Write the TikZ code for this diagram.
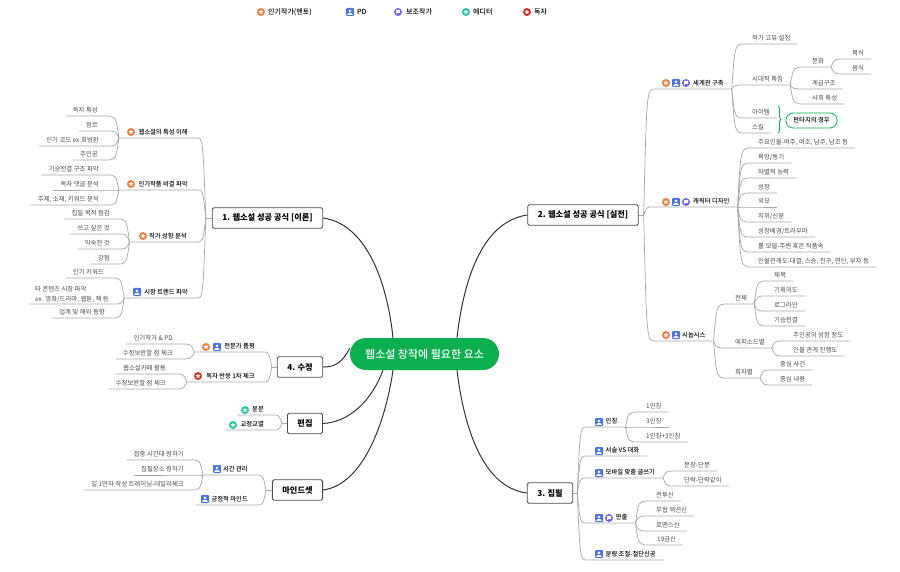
\documentclass[tikz,border=0pt]{standalone}
\usepackage{fontspec}
\setmainfont{Noto Sans CJK KR}
\newfontfamily\mediumfont{Noto Sans CJK KR Medium}
\usepackage{xcolor}
\usetikzlibrary{calc,decorations.pathreplacing}

\definecolor{rootgreen}{HTML}{0BAF50}
\definecolor{mentorc}{HTML}{F07A3E}
\definecolor{pdc}{HTML}{4C72E6}
\definecolor{assistc}{HTML}{7B5FE3}
\definecolor{editorc}{HTML}{1CC49A}
\definecolor{readerc}{HTML}{D9261C}
\definecolor{twigc}{HTML}{A6A6A6}
\definecolor{leaftext}{HTML}{4A4A4A}

\newcommand{\gap}[1]{\hspace*{#1pt}}
\newcommand{\fanL}[2]{\foreach \l in {#2} \draw[twigline] (#1) .. controls ($(#1 |- \l.south east)+(-3,0)$) .. (\l.south east) -- (\l.south west);}
\newcommand{\fanR}[2]{\foreach \l in {#2} \draw[twigline] (#1) .. controls ($(#1 |- \l.south west)+(3,0)$) .. (\l.south west) -- (\l.south east);}
\newcommand{\starshape}{(270:2.7) -- (306:1.2) -- (342:2.7) -- (18:1.2) -- (54:2.7) -- (90:1.2) -- (126:2.7) -- (162:1.2) -- (198:2.7) -- (234:1.2) -- cycle}

\tikzset{
  twigline/.style={draw=twigc,line width=0.7pt},
  trunk/.style={draw=black!80,line width=1pt},
  twigL/.style={anchor=south east,font=\fontsize{6.4}{10}\selectfont,text=leaftext,inner xsep=7pt,inner ysep=1.3pt,text height=5pt,text depth=2pt},
  twigR/.style={twigL,anchor=south west},
  branchL/.style={twigL,font=\fontsize{6.3}{10}\selectfont\mediumfont,text=black,inner xsep=9pt},
  branchR/.style={branchL,anchor=south west,inner xsep=8pt},
  topic/.style={draw=black!70,fill=white,rounded corners=1.5pt,line width=0.9pt,minimum height=20.5pt,inner xsep=10pt,inner ysep=0pt,font=\fontsize{8.2}{10}\selectfont\bfseries},
  legend/.style={anchor=west,inner sep=0pt,font=\fontsize{7}{9}\selectfont\mediumfont},
  mentor/.pic={\fill[mentorc] (0,0) circle (4); \fill[white] \starshape;},
  editor/.pic={\fill[editorc] (0,0) circle (4); \fill[white] \starshape;},
  reader/.pic={\fill[readerc] (0,0) circle (4); \fill[white] \starshape;},
  pd/.pic={\fill[pdc,rounded corners=1pt] (-4,-4) rectangle (4,4);
    \fill[white] (0,-1.2) circle (1.5);
    \fill[white] (-2.8,2.8) .. controls (-2.5,0.3) and (2.5,0.3) .. (2.8,2.8) -- cycle;},
  assist/.pic={\fill[assistc] (0,0) circle (4);
    \fill[white,rounded corners=0.4pt] (-2,-2) rectangle (2.2,1);
    \fill[white] (-2,0) rectangle (-1.1,2.3);},
}

\begin{document}
\begin{tikzpicture}[x=1pt,y=-1pt]
  \useasboundingbox (0,0) rectangle (900,572);

  \pic at (261,12) {mentor};
  \node[legend] (lg1) at (268,12) {인기작가(멘토)};
  \pic at (350,12) {pd};
  \node[legend] (lg2) at (357,12) {PD};
  \pic at (398,12) {assist};
  \node[legend] (lg3) at (406,12) {보조작가};
  \pic at (466,12) {editor};
  \node[legend] (lg4) at (473,12) {에디터};
  \pic at (527,12) {reader};
  \node[legend] (lg5) at (534,12) {독자};

  \node[fill=rootgreen,text=white,rounded corners=16pt,minimum width=149pt,minimum height=32pt,inner sep=0pt,font=\fontsize{11}{13}\selectfont\mediumfont] (root) at (424.5,354) {웹소설 창작에 필요한 요소};
  \node[topic] (m1) at (267.5,218) {1. 웹소설 성공 공식 [이론]};
  \node[topic] (m2) at (583,215) {2. 웹소설 성공 공식 [실전]};
  \node[topic] (m3) at (550,493) {3. 집필};
  \node[topic] (m4) at (300,367) {4. 수정};
  \node[topic] (m5) at (305,423.5) {편집};
  \node[topic] (m6) at (297.5,490) {마인드셋};

  \draw[trunk] ([xshift=-31.5pt]root.north) .. controls (388,290) and (370,225) .. (m1.east);
  \draw[trunk] ([xshift=32.5pt]root.north) .. controls (463,285) and (480,222) .. (m2.west);
  \draw[trunk] ([xshift=32.5pt]root.south) .. controls (463,420) and (480,487) .. (m3.west);
  \draw[trunk] ([yshift=6pt]root.west) .. controls (342,363) and (335,367) .. (m4.east);
  \draw[trunk] ([xshift=-41.5pt]root.south) .. controls (372,400) and (350,422) .. (m5.east);
  \draw[trunk] ([xshift=-31.5pt]root.south) .. controls (385,425) and (362,485) .. (m6.east);

  \coordinate (m1j) at ([xshift=-6pt]m1.west);
  \coordinate (m2j) at ([xshift=5pt]m2.east);
  \coordinate (m3j) at ([xshift=4pt]m3.east);
  \coordinate (m4j) at ([xshift=-5pt]m4.west);
  \coordinate (m5j) at ([xshift=-5pt]m5.west);
  \coordinate (m6j) at ([xshift=-6pt]m6.west);
  \draw[twigline] (m1j) -- (m1.west);
  \draw[twigline] (m2j) -- (m2.east);
  \draw[twigline] (m3j) -- (m3.east);
  \draw[twigline] (m4j) -- (m4.west);
  \draw[twigline] (m5j) -- (m5.west);
  \draw[twigline] (m6j) -- (m6.west);

  \node[branchL] (a1) at (197,138) {\gap{10.5}웹소설의 특성 이해};
  \node[branchL] (a2) at (197,190) {\gap{10.5}인기작품 비결 파악};
  \node[branchL] (a3) at (196,242) {\gap{10.5}작가 성향 분석};
  \node[branchL] (a4) at (197,298) {\gap{11}시장 트렌드 파악};
  \pic at (131,132) {mentor};
  \pic at (131,184) {mentor};
  \pic at (143,236) {mentor};
  \pic at (137,292) {pd};
  \node[twigL] (a11) at (105,116) {독자 특성};
  \node[twigL] (a12) at (105,131) {장르};
  \node[twigL] (a13) at (106,146) {인기 코드 ex.회빙환};
  \node[twigL] (a14) at (105,160) {주인공};
  \node[twigL] (a21) at (106,175) {기승전결 구조 파악};
  \node[twigL] (a22) at (106,190) {독자 댓글 분석};
  \node[twigL] (a23) at (106,205) {주제, 소재, 키워드 분석};
  \node[twigL] (a31) at (117,219) {집필 목적 점검};
  \node[twigL] (a32) at (117,234) {쓰고 싶은 것};
  \node[twigL] (a33) at (117,249) {익숙한 것};
  \node[twigL] (a34) at (117,264) {강점};
  \node[twigL] (a41) at (111,278) {인기 키워드};
  \node[twigL,align=left,text height=,text depth=,inner xsep=5pt] (a42) at (114,304) {타 콘텐츠 시장 파악\\ex. 영화/드라마, 웹툰, 책 등};
  \node[twigL] (a43) at (112,318) {업계 및 해외 동향};
  \fanL{m1j}{a1,a2,a3,a4}
  \fanL{a1.south west}{a11,a12,a13,a14}
  \fanL{a2.south west}{a21,a22,a23}
  \fanL{a3.south west}{a31,a32,a33,a34}
  \fanL{a4.south west}{a41,a42,a43}

  \node[branchR] (b1) at (655,89) {\gap{30}세계관 구축};
  \node[branchR] (b2) at (652,207) {\gap{33}캐릭터 디자인};
  \node[branchR] (b3) at (655,341) {\gap{19}시놉시스};
  \pic at (666,83) {mentor};
  \pic at (676,83) {pd};
  \pic at (686,83) {assist};
  \pic at (666,202) {mentor};
  \pic at (676,202) {pd};
  \pic at (686,202) {assist};
  \pic at (666,335) {mentor};
  \pic at (676,335) {pd};
  \node[twigR] (b11) at (745,44) {작가 고유 설정};
  \node[twigR] (b12) at (745,85) {시대적 특징};
  \node[twigR] (b13) at (745,118) {아이템};
  \node[twigR] (b14) at (745,133) {스킬};
  \node[twigR] (b121) at (805,67) {문화};
  \node[twigR] (b122) at (805,89) {계급구조};
  \node[twigR] (b123) at (805,104) {사회 특성};
  \node[twigR] (b1211) at (845,59) {복식};
  \node[twigR] (b1212) at (845,74) {음식};
  \node[draw=rootgreen,rounded corners=7pt,line width=0.8pt,fill=white,inner sep=0pt,minimum width=51pt,minimum height=15pt,font=\fontsize{6.3}{8}\selectfont\mediumfont] (fantasy) at (811.5,120.5) {판타지의 경우};
  \draw[rootgreen,line width=0.8pt,decorate,decoration={brace,amplitude=3pt}] (778,106) -- (778,133);
  \fanR{m2j}{b1,b2,b3}
  \fanR{b1.south east}{b11,b12,b13,b14}
  \fanR{b12.south east}{b121,b122,b123}
  \fanR{b121.south east}{b1211,b1212}
  \node[twigR] (b21) at (751,148) {주요인물-여주, 여조, 남주, 남조 등};
  \node[twigR] (b22) at (751,163) {욕망/동기};
  \node[twigR] (b23) at (751,178) {차별적 능력};
  \node[twigR] (b24) at (751,193) {성장};
  \node[twigR] (b25) at (751,207) {외모};
  \node[twigR] (b26) at (751,222) {지위/신분};
  \node[twigR] (b27) at (751,237) {성장배경/트라우마};
  \node[twigR] (b28) at (751,252) {롤 모델-주변 혹은 작품속};
  \node[twigR] (b29) at (751,267) {인물관계도-대결, 스승, 친구, 연인, 부자 등};
  \fanR{b2.south east}{b21,b22,b23,b24,b25,b26,b27,b28,b29}
  \node[twigR] (b31) at (728,304) {전체};
  \node[twigR] (b32) at (728,348) {에피소드별};
  \node[twigR] (b33) at (728,378) {회차별};
  \node[twigR] (b311) at (767,281) {제목};
  \node[twigR] (b312) at (767,296) {기획의도};
  \node[twigR] (b313) at (767,311) {로그라인};
  \node[twigR] (b314) at (767,326) {기승전결};
  \node[twigR] (b321) at (786,341) {주인공의 성장 정도};
  \node[twigR] (b322) at (786,356) {인물 관계 진행도};
  \node[twigR] (b331) at (773,370) {중심 사건};
  \node[twigR] (b332) at (773,385) {중심 내용};
  \fanR{b3.south east}{b31,b32,b33}
  \fanR{b31.south east}{b311,b312,b313,b314}
  \fanR{b32.south east}{b321,b322}
  \fanR{b33.south east}{b331,b332}

  \node[branchR] (c1) at (587,427) {\gap{10.5}인칭};
  \node[branchR] (c2) at (587,456) {\gap{10.5}서술 VS 대화};
  \node[branchR] (c3) at (587,478) {\gap{10.5}모바일 맞춤 글쓰기};
  \node[branchR] (c4) at (587,523) {\gap{20.5}연출};
  \node[branchR] (c5) at (587,560) {\gap{10.5}분량 조절-절단신공};
  \pic at (599,422) {pd};
  \pic at (599,451) {pd};
  \pic at (599,473) {pd};
  \pic at (599,518) {pd};
  \pic at (609,518) {assist};
  \pic at (599,554) {pd};
  \node[twigR] (c11) at (639,412) {1인칭};
  \node[twigR] (c12) at (639,427) {3인칭};
  \node[twigR] (c13) at (639,442) {1인칭+3인칭};
  \node[twigR] (c31) at (677,471) {문장-단문};
  \node[twigR] (c32) at (677,486) {단락-단락같이};
  \node[twigR] (c41) at (649,501) {전투신};
  \node[twigR] (c42) at (649,516) {무협 액션신};
  \node[twigR] (c43) at (649,531) {로맨스신};
  \node[twigR] (c44) at (650,545) {19금신};
  \fanR{m3j}{c1,c2,c3,c4,c5}
  \fanR{c1.south east}{c11,c12,c13}
  \fanR{c3.south east}{c31,c32}
  \fanR{c4.south east}{c41,c42,c43,c44}

  \node[branchL] (d1) at (264,352) {\gap{21}전문가 품평};
  \node[branchL] (d2) at (264,382) {\gap{10.5}독자 반응 1차 체크};
  \pic at (206,347) {mentor};
  \pic at (217,347) {pd};
  \pic at (198,376) {reader};
  \node[twigL] (d11) at (180,344) {인기작가 \& PD};
  \node[twigL] (d12) at (180,359) {수정보완할 점 체크};
  \node[twigL] (d21) at (173,374) {웹소설카페 활용};
  \node[twigL] (d22) at (173,389) {수정보완할 점 체크};
  \fanL{m4j}{d1,d2}
  \fanL{d1.south west}{d11,d12}
  \fanL{d2.south west}{d21,d22}

  \node[branchL] (e1) at (273,415) {\gap{6}윤문};
  \node[branchL] (e2) at (273,430) {\gap{6}교정교열};
  \pic at (245,410) {editor};
  \pic at (233,425) {editor};
  \fanL{m5j}{e1,e2}

  \node[branchL] (f1) at (257,475) {\gap{11}시간 관리};
  \node[branchL] (f2) at (257,505) {\gap{6}긍정적 마인드};
  \pic at (217,469) {pd};
  \pic at (205,499) {pd};
  \node[twigL] (f11) at (191,460) {집중 시간대 정하기};
  \node[twigL] (f12) at (191,475) {집필장소 정하기};
  \node[twigL] (f13) at (191,490) {일 1만자 작성 트레이닝-데일리체크};
  \fanL{m6j}{f1,f2}
  \fanL{f1.south west}{f11,f12,f13}
\end{tikzpicture}
\end{document}
